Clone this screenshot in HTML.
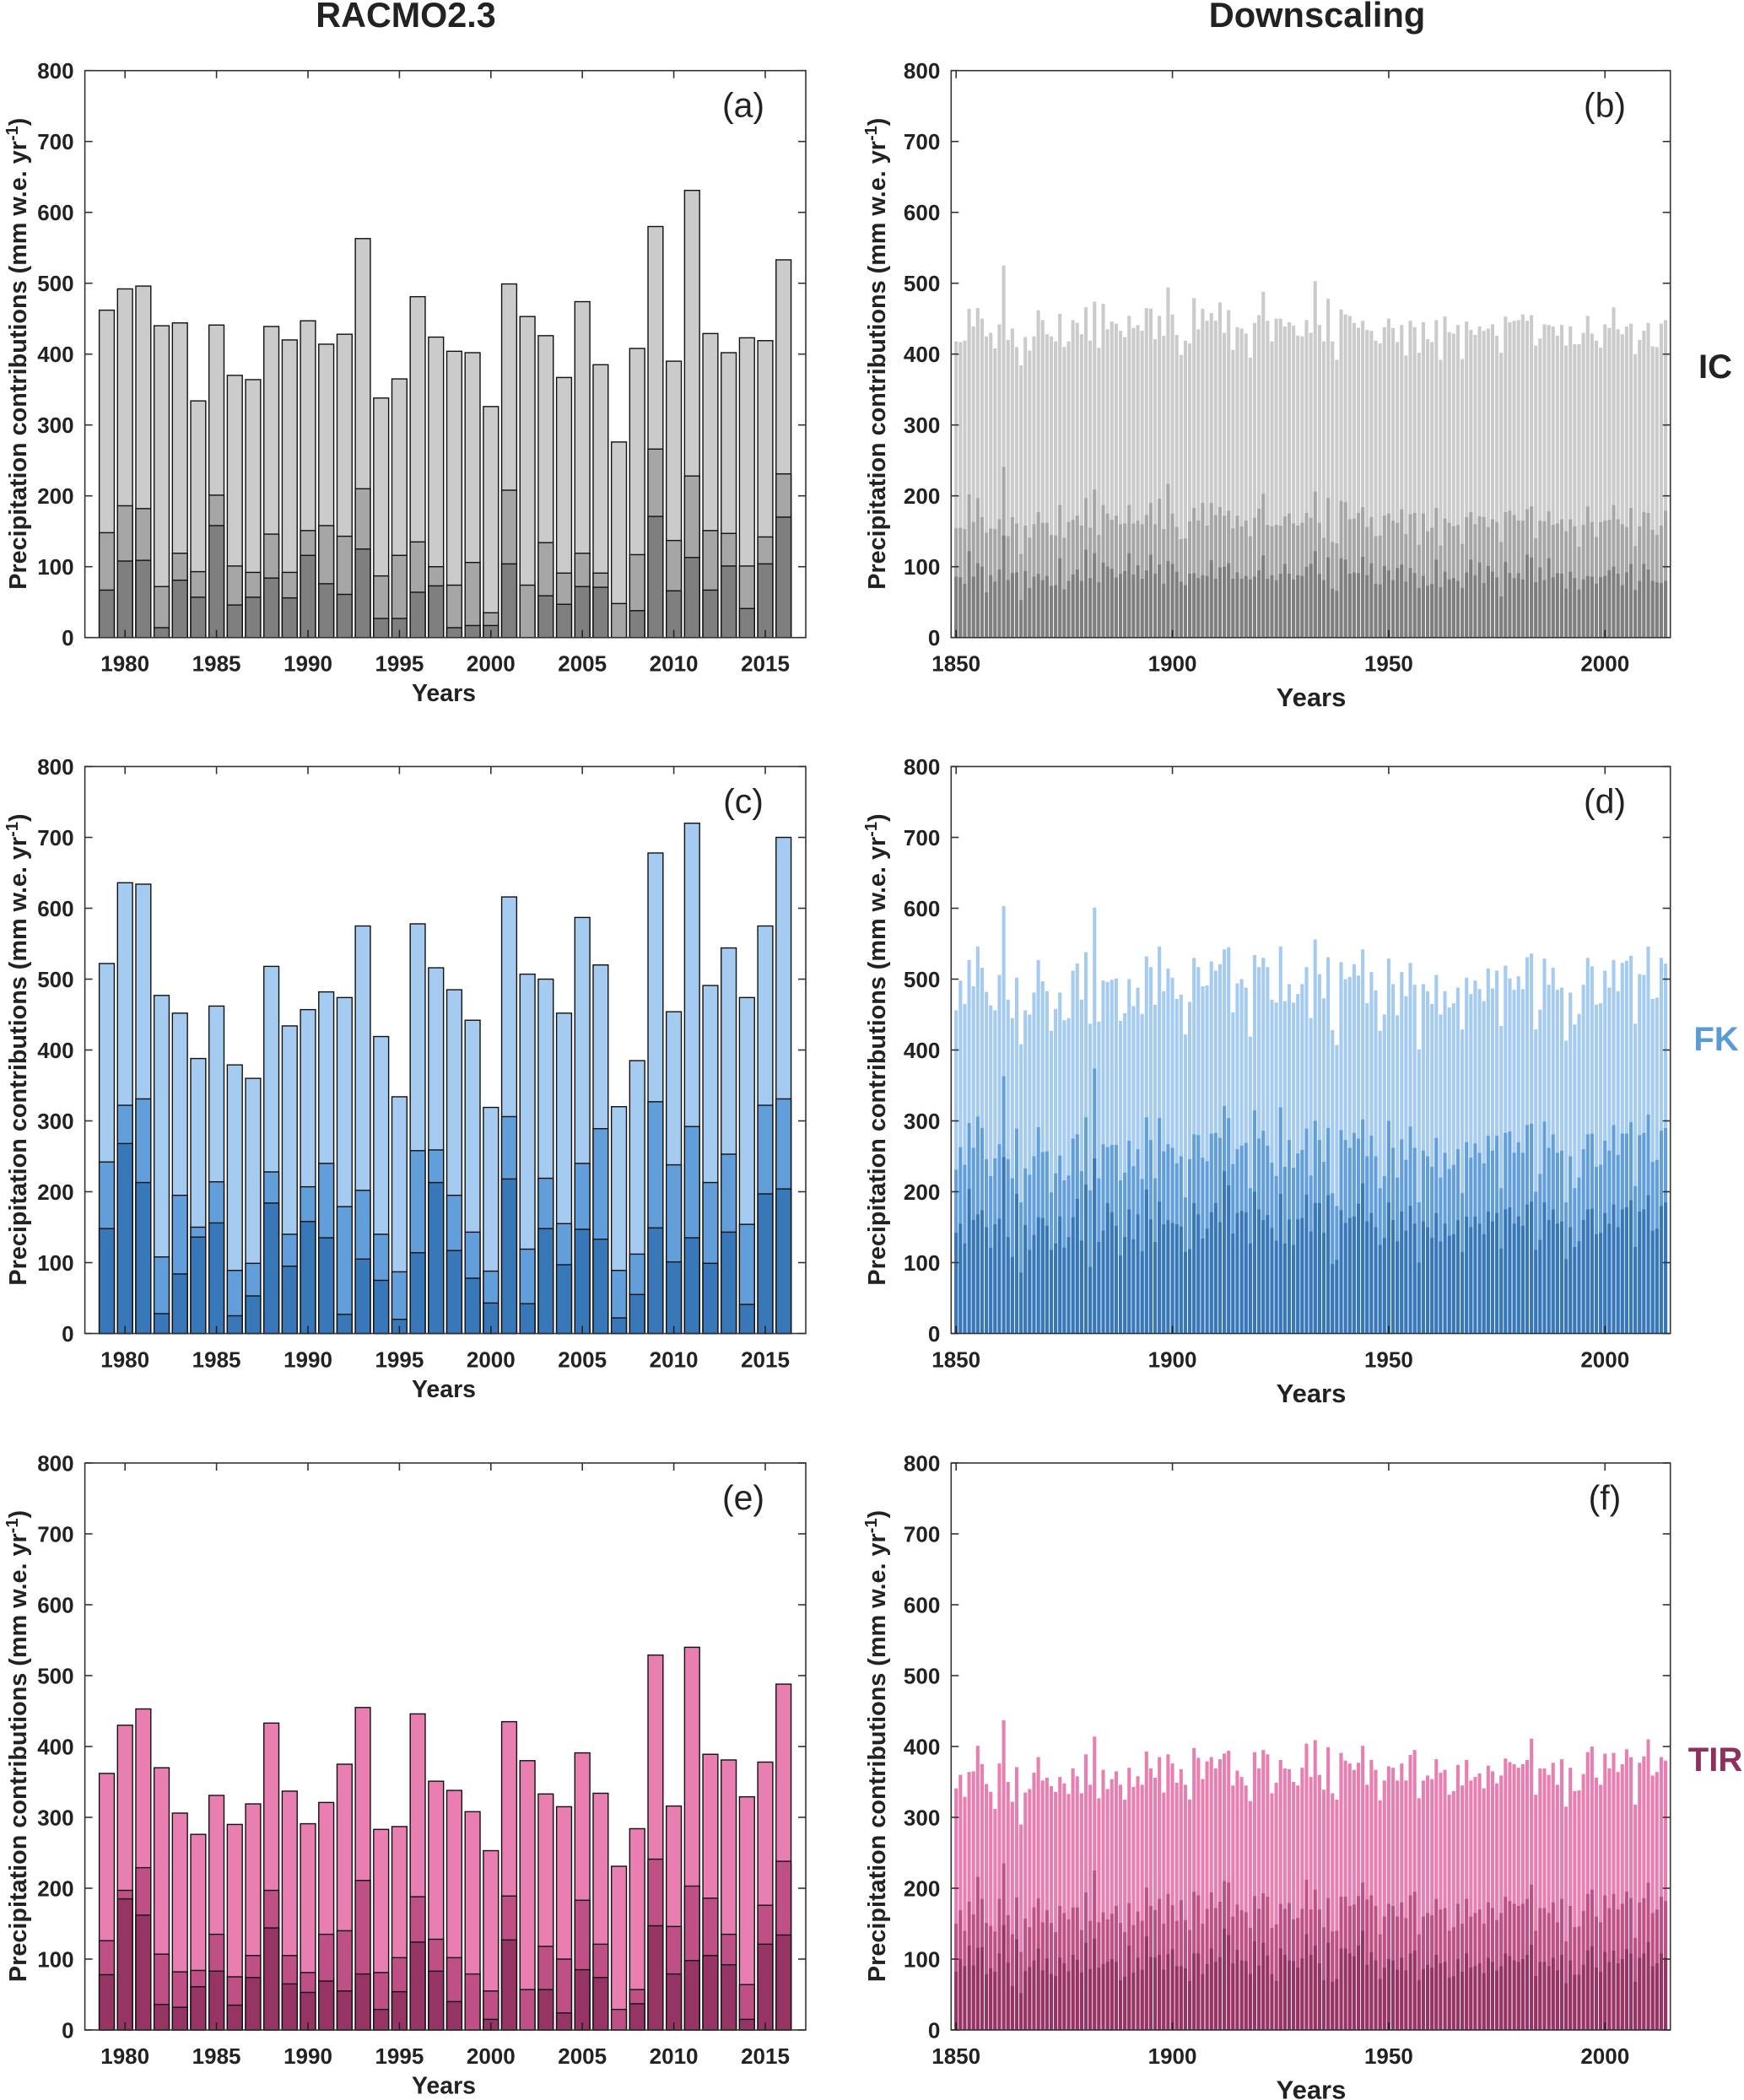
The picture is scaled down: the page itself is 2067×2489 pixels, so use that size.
<!DOCTYPE html>
<html>
<head>
<meta charset="utf-8">
<title>Precipitation contributions</title>
<style>
html,body{margin:0;padding:0;background:#fff;}
svg{display:block;}
text{font-family:"Liberation Sans",Arial,sans-serif;fill:#222;}
.b{font-weight:bold;}
</style>
</head>
<body>
<svg id="figure" xmlns="http://www.w3.org/2000/svg" width="2067" height="2489" viewBox="0 0 2067 2489">
<rect x="0" y="0" width="2067" height="2489" fill="#fff"/>
<text class="b" x="481" y="32" font-size="41.3" text-anchor="middle">RACMO2.3</text>
<text class="b" x="1561" y="32" font-size="41.6" text-anchor="middle">Downscaling</text>
<text class="b" x="2033" y="448" font-size="40" text-anchor="middle">IC</text>
<text class="b" x="2034" y="1245" font-size="40" text-anchor="middle" style="fill:#5b9bd5">FK</text>
<text class="b" x="2033" y="2099" font-size="40" text-anchor="middle" style="fill:#8e2f60">TIR</text>
</svg>
<script>
const racmoYears = [1979,1980,1981,1982,1983,1984,1985,1986,1987,1988,1989,1990,1991,1992,1993,1994,1995,1996,1997,1998,1999,2000,2001,2002,2003,2004,2005,2006,2007,2008,2009,2010,2011,2012,2013,2014,2015,2016];
const downscalingYears = Array.from({length:165},(_,i)=>1850+i);
const racmoTickYears = [1980,1985,1990,1995,2000,2005,2010,2015];
const downscalingTickYears = [1850,1900,1950,2000];
const valueTicks = [0,100,200,300,400,500,600,700,800];

const icRacmoTotal = [462,492,496,440,444,334,441,370,364,439,420,447,414,428,563,338,365,481,424,404,402,326,499,453,426,367,474,385,276,408,580,390,631,429,402,423,419,533];
const icRacmoMid = [148,186,182,72,119,93,201,101,92,146,92,151,158,143,210,87,116,135,100,74,106,35,208,74,134,91,119,91,48,117,266,137,228,151,147,101,142,231];
const icRacmoLow = [67,108,109,14,81,57,158,46,57,84,56,116,76,61,125,27,27,64,73,14,17,17,104,0,59,47,72,71,0,38,171,66,113,67,101,41,104,170];

const fkRacmoTotal = [522,636,634,477,452,388,462,379,360,518,434,457,482,474,575,419,334,578,516,485,442,319,616,507,500,452,587,520,320,385,678,454,720,491,544,474,575,700];
const fkRacmoMid = [242,322,331,108,195,150,214,89,99,228,140,207,240,179,202,140,87,258,259,195,143,88,306,119,219,155,240,289,89,112,327,238,292,213,253,154,322,331];
const fkRacmoLow = [148,268,213,28,84,136,156,25,53,184,95,158,135,27,105,75,20,114,213,117,78,43,218,42,148,97,147,133,22,55,149,101,135,99,143,41,197,204];

const tirRacmoTotal = [362,430,453,370,306,276,331,290,319,433,337,291,321,375,455,283,287,446,351,338,308,253,435,380,333,315,391,334,231,284,529,316,540,389,381,329,378,488];
const tirRacmoMid = [126,197,229,107,82,84,135,75,105,197,105,81,135,140,211,81,102,188,128,102,79,55,189,57,118,100,183,121,29,57,241,146,203,186,135,64,176,238];
const tirRacmoLow = [78,185,162,36,32,61,83,35,74,144,65,53,69,55,79,29,54,124,83,40,0,15,127,0,57,24,85,74,0,37,147,79,98,105,92,15,121,134];

const icDownTotal = [418,417,419,464,439,465,450,425,430,408,442,525,420,436,410,384,424,405,425,462,448,428,425,418,457,410,418,448,444,428,466,419,474,409,471,435,446,443,433,424,454,437,441,433,465,464,421,454,426,494,456,427,399,419,415,479,435,464,447,458,447,473,430,462,406,438,436,429,395,444,455,488,447,418,450,450,439,445,440,426,425,448,430,503,441,418,478,418,392,463,456,454,444,437,447,434,433,419,415,438,450,437,417,441,398,447,438,402,445,421,417,448,392,453,431,429,441,393,446,434,427,439,433,436,442,426,402,453,445,447,448,456,447,455,412,422,442,441,439,426,441,412,439,414,414,430,454,429,419,409,442,437,466,435,428,439,443,400,420,433,444,411,410,443,448];
const icDownMid = [154,155,153,202,163,197,170,148,154,153,167,241,143,170,161,118,158,141,160,177,162,162,145,144,187,141,163,166,172,158,197,155,209,145,187,175,166,172,160,161,187,161,165,160,173,190,160,196,153,217,175,156,139,140,164,183,165,190,158,190,173,184,172,179,154,172,157,165,143,169,182,203,159,157,159,158,171,175,161,158,162,176,169,206,162,141,197,135,133,193,191,167,168,176,184,156,170,143,144,172,175,165,162,181,146,174,176,131,175,150,155,183,130,168,162,157,159,132,170,177,160,171,170,156,167,163,135,177,179,173,165,165,181,185,140,165,164,178,159,161,167,150,167,157,128,159,185,163,142,163,165,166,187,167,160,156,183,129,157,177,176,152,145,158,179];
const icDownLow = [86,85,76,122,86,105,100,64,88,79,96,144,81,91,92,53,94,70,86,90,81,87,73,74,112,68,80,89,96,80,124,84,119,78,106,100,97,85,90,94,119,89,102,83,95,117,90,103,76,108,104,93,79,74,90,91,84,88,87,109,83,99,100,105,83,92,83,87,82,86,95,116,83,88,81,90,104,90,82,88,87,100,104,122,90,81,113,69,66,112,110,90,92,91,114,88,105,76,75,101,95,81,98,103,79,98,91,70,87,73,76,110,71,93,82,84,80,70,92,110,88,106,77,101,93,85,58,107,91,84,91,82,117,113,78,99,81,112,85,91,90,69,93,84,68,82,87,86,76,85,87,95,100,90,74,92,104,67,80,104,96,80,78,77,80];

const fkDownTotal = [456,498,465,527,490,546,516,482,463,456,506,603,471,445,502,408,456,450,481,527,497,483,427,458,481,442,445,512,522,471,538,437,601,440,498,496,499,501,441,452,500,462,488,451,532,517,464,546,483,515,502,472,478,422,468,530,517,490,491,525,512,521,542,545,453,494,500,488,419,534,517,530,517,471,467,546,469,493,467,479,493,517,445,556,507,473,531,428,407,524,500,503,521,505,542,466,510,484,427,450,529,493,449,510,476,523,492,401,493,483,465,506,450,483,460,466,488,429,502,479,498,486,469,515,487,512,434,519,501,485,504,486,531,536,429,457,529,492,516,485,488,413,481,436,451,492,530,518,464,466,512,488,527,483,523,526,533,437,507,506,546,472,474,530,522];
const fkDownMid = [231,263,238,297,262,306,290,246,222,247,267,363,246,219,289,185,233,224,250,291,256,257,199,226,251,216,223,275,281,229,305,202,374,219,267,263,266,266,216,227,272,236,260,218,305,273,219,304,257,267,262,240,250,192,246,281,280,248,243,282,283,276,321,304,239,260,265,269,205,315,275,286,265,241,222,319,235,273,234,254,259,289,223,300,273,242,290,198,180,287,273,262,283,275,302,250,279,250,205,222,300,262,220,274,245,292,262,185,258,250,235,276,220,255,232,238,260,198,270,248,268,255,240,279,258,279,205,283,285,255,270,255,294,296,200,225,299,262,281,255,258,185,250,205,220,260,281,282,235,238,272,258,294,252,282,282,298,208,280,283,309,242,245,286,290];
const fkDownLow = [142,155,127,204,160,168,174,150,121,154,162,249,136,108,197,86,153,118,139,164,163,152,118,127,165,121,136,164,190,131,210,94,247,129,145,184,171,152,110,136,175,133,168,116,203,161,129,186,154,160,156,154,151,115,119,184,168,134,148,171,184,157,229,209,141,170,173,171,127,200,175,160,167,149,131,197,127,161,125,161,163,196,144,184,184,142,195,98,104,174,156,163,165,183,212,158,170,150,125,135,185,160,130,172,145,180,155,100,158,150,135,170,130,155,138,140,160,115,165,150,165,155,140,172,158,170,120,175,178,155,165,152,182,186,118,132,185,160,175,155,158,105,150,122,130,160,175,176,140,142,170,155,182,150,175,178,188,122,172,175,195,145,148,180,185];

const tirDownTotal = [341,360,329,364,365,401,375,347,336,312,376,437,350,322,371,290,335,340,363,385,352,356,344,336,357,348,333,369,358,334,389,346,414,327,367,340,354,365,346,325,370,343,358,346,393,369,356,385,335,389,376,349,368,346,325,398,384,354,379,385,369,382,390,394,345,366,357,345,323,392,369,395,389,334,349,381,369,368,350,345,370,404,357,409,360,339,399,334,325,391,380,376,367,377,401,346,381,367,324,352,372,370,352,376,352,388,395,327,352,359,354,382,363,367,332,337,374,345,381,352,357,362,341,373,365,348,359,383,378,375,370,375,381,411,332,369,369,360,377,346,382,315,370,337,338,361,392,400,356,346,390,369,391,364,375,396,385,318,377,386,410,359,364,385,380];
const tirDownMid = [150,169,140,181,163,216,185,151,147,139,185,235,162,135,187,110,157,145,173,186,152,169,151,138,175,165,156,173,173,141,194,154,225,152,166,156,164,175,151,138,179,148,167,154,201,175,169,185,150,192,176,154,183,155,141,195,190,150,171,194,172,181,210,208,160,177,169,166,144,189,171,193,188,144,149,178,171,179,156,158,171,212,170,198,170,145,186,139,140,188,188,175,177,189,208,184,190,175,135,160,178,175,160,180,158,190,195,135,160,165,162,185,170,172,140,145,178,150,185,160,165,170,150,180,172,155,165,188,182,178,175,178,185,205,140,172,172,165,180,152,185,125,175,145,146,168,192,198,160,152,190,172,192,170,178,195,186,130,180,186,208,165,170,188,182];
const tirDownLow = [82,100,90,119,91,116,117,79,87,82,108,148,95,62,128,52,83,89,98,115,84,101,79,76,102,94,83,106,99,81,123,86,129,88,93,96,100,96,70,75,119,81,102,85,132,103,102,106,85,107,114,90,90,87,69,108,108,79,93,115,96,103,143,134,94,113,98,97,79,125,91,123,105,79,69,115,106,98,97,88,101,135,106,119,94,70,123,68,72,115,115,108,104,119,140,92,110,98,72,88,100,98,85,102,84,108,112,70,86,92,88,106,94,96,74,76,100,82,108,88,90,94,80,102,96,84,90,108,104,98,96,100,106,120,76,96,96,90,102,84,106,66,98,78,78,92,112,118,88,82,110,96,112,94,100,114,108,68,102,108,124,90,94,108,102];

const yTitleMain = 'Precipitation contributions (mm w.e. yr';
const xTitle = 'Years';
const SVGNS = 'http://www.w3.org/2000/svg';
const figure = document.getElementById('figure');
const greys = ['#cbcbcb','#a6a6a6','#7f7f7f'];
const blues = ['#a5cbf0','#629ed9','#3878b8'];
const pinks = ['#e97fb1','#bf5085','#963564'];

function makeEl(tag, attrs, parent){
  const el = document.createElementNS(SVGNS, tag);
  for (const k in attrs) el.setAttribute(k, attrs[k]);
  parent.appendChild(el);
  return el;
}

function drawPanel(p){
  const g = makeEl('g', {}, figure);
  
  
  const right = p.right, left = p.left, base = p.base, top = base - 672;
  const xScale = y => p.x0 + (y - p.ref) * p.step;
  const yScale = v => base - v * 0.84;
  const series = [p.total, p.mid, p.low];
  const seriesNames = ['bar-total', 'bar-mid', 'bar-low'];
  p.years.forEach((yr, i) => {
    series.forEach((vals, s) => {
      const v = vals[i];
      if (!v) return;
      const attrs = {x: xScale(yr) - p.barW / 2, y: yScale(v), width: p.barW, height: v * 0.84, fill: p.colors[s]};
      if (p.outline) { attrs.stroke = '#111'; attrs['stroke-width'] = 1.4; }
      const bar = makeEl('rect', attrs, g);
      
      
    });
  });
  const box = makeEl('rect', {x: left, y: top, width: right - left, height: base - top, fill: 'none', stroke: '#333', 'stroke-width': 1.6}, g);
  
  
  valueTicks.forEach(v => {
    const y = yScale(v);
    const t1 = makeEl('line', {x1: left, x2: left + 9, y1: y, y2: y, stroke: '#333', 'stroke-width': 1.6}, g);
    
    
    const t2 = makeEl('line', {x1: right - 9, x2: right, y1: y, y2: y, stroke: '#333', 'stroke-width': 1.6}, g);
    
    
    const lab = makeEl('text', {x: left - 13, y: y + 9.5, 'font-size': 26, 'text-anchor': 'end', class: 'b'}, g);
    
    
    lab.textContent = v;
  });
  p.ticks.forEach(yr => {
    const x = xScale(yr);
    const t1 = makeEl('line', {x1: x, x2: x, y1: base - 9, y2: base, stroke: '#222', 'stroke-width': 1.6}, g);
    
    
    const t2 = makeEl('line', {x1: x, x2: x, y1: top, y2: top + 9, stroke: '#333', 'stroke-width': 1.6}, g);
    
    
    const lab = makeEl('text', {x: x, y: base + 40, 'font-size': 26, 'text-anchor': 'middle', class: 'b'}, g);
    
    
    lab.textContent = yr;
  });
  const xt = makeEl('text', {x: p.xTitleX, y: base + p.xTitleDy, 'font-size': p.xTitleSize, 'text-anchor': 'middle', class: 'b'}, g);
  
  
  xt.textContent = xTitle;
  const cy = base - 336.5;
  const yt = makeEl('text', {transform: 'translate(' + p.yTitleX + ',' + cy + ') rotate(-90)', 'font-size': 28.8, 'text-anchor': 'middle', class: 'b'}, g);
  
  
  yt.appendChild(document.createTextNode(yTitleMain));
  const sup = makeEl('tspan', {dy: -10, 'font-size': 20}, yt);
  sup.textContent = '-1';
  const close = makeEl('tspan', {dy: 10}, yt);
  close.textContent = ')';
  const pl = makeEl('text', {x: p.labelX, y: top + 55, 'font-size': 41, 'text-anchor': 'middle'}, g);
  
  
  pl.textContent = p.label;
}

const leftCol = {years: racmoYears, ticks: racmoTickYears, left: 100.6, right: 955, x0: 148.2, ref: 1980, step: 21.68, barW: 17.8, outline: true, xTitleX: 526, xTitleDy: 75.5, xTitleSize: 28.5, yTitleX: 31, labelX: 881};
const rightCol = {years: downscalingYears, ticks: downscalingTickYears, left: 1127.3, right: 1979.7, x0: 1133.2, ref: 1850, step: 5.127, barW: 4.1, outline: false, xTitleX: 1554, xTitleDy: 81.5, xTitleSize: 31, yTitleX: 1049, labelX: 1902};

drawPanel(Object.assign({}, leftCol, {name: 'panel-a-ic-racmo', base: 755.7, total: icRacmoTotal, mid: icRacmoMid, low: icRacmoLow, colors: greys, label: '(a)'}));
drawPanel(Object.assign({}, rightCol, {name: 'panel-b-ic-downscaling', base: 755.7, total: icDownTotal, mid: icDownMid, low: icDownLow, colors: greys, label: '(b)'}));
drawPanel(Object.assign({}, leftCol, {name: 'panel-c-fk-racmo', base: 1580.5, total: fkRacmoTotal, mid: fkRacmoMid, low: fkRacmoLow, colors: blues, label: '(c)'}));
drawPanel(Object.assign({}, rightCol, {name: 'panel-d-fk-downscaling', base: 1580.5, total: fkDownTotal, mid: fkDownMid, low: fkDownLow, colors: blues, label: '(d)'}));
drawPanel(Object.assign({}, leftCol, {name: 'panel-e-tir-racmo', base: 2406, total: tirRacmoTotal, mid: tirRacmoMid, low: tirRacmoLow, colors: pinks, label: '(e)'}));
drawPanel(Object.assign({}, rightCol, {name: 'panel-f-tir-downscaling', base: 2406, total: tirDownTotal, mid: tirDownMid, low: tirDownLow, colors: pinks, label: '(f)'}));
</script>
</body>
</html>
